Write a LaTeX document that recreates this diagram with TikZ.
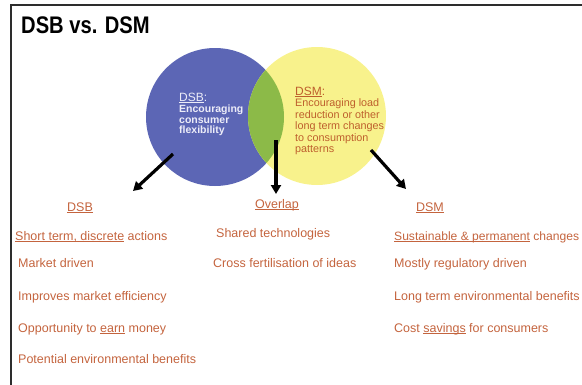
\documentclass[tikz,border=0pt]{standalone}
\usepackage{fontspec}
\setmainfont{Liberation Sans}
\usepackage{graphicx}
\usetikzlibrary{arrows.meta}
\definecolor{blueC}{RGB}{92,102,181}
\definecolor{yellowC}{RGB}{248,242,140}
\definecolor{greenC}{RGB}{140,186,72}
\definecolor{brownT}{RGB}{196,100,62}
\definecolor{dsmT}{RGB}{190,95,45}
\definecolor{lightT}{RGB}{236,236,248}
\definecolor{frameC}{RGB}{45,45,45}
\newcommand\ulx[1]{\setbox0\hbox{#1}\rlap{\rule[-1.8pt]{\wd0}{0.8pt}}\box0\relax}
\tikzset{
  item/.style={anchor=base west, inner sep=0pt, text=brownT, font=\fontsize{12.5}{14}\selectfont},
  head/.style={anchor=base, inner sep=0pt, text=brownT, font=\fontsize{12.5}{14}\selectfont},
  dsbtxt/.style={anchor=base west, inner sep=0pt, text=lightT, font=\bfseries\fontsize{10.5}{11}\selectfont},
  dsmtxt/.style={anchor=base west, inner sep=0pt, text=dsmT, font=\fontsize{10.8}{11}\selectfont},
  bigarrow/.style={line width=3.2pt, draw=black, -{Triangle[length=9pt,width=10pt]}}
}
\begin{document}
\begin{tikzpicture}[x=1pt,y=-1pt]
\useasboundingbox (0,0) rectangle (582,384);
\clip (0,0) rectangle (582,384);
% frame
\draw[frameC, line width=1.4pt] (11,390) -- (11,5) -- (590,5);
% title
\node[anchor=base west, inner sep=0pt, font=\bfseries\fontsize{24}{26}\selectfont] (title) at (21,33) {\scalebox{0.84}[1]{DSB vs. DSM}};
% circles
\fill[blueC] (215,117) circle[radius=69];
\fill[yellowC] (317,116) circle[radius=69];
\begin{scope}
  \clip (215,117) circle[radius=69];
  \fill[greenC] (317,116) circle[radius=69];
\end{scope}
% blue text
\node[anchor=base west, inner sep=0pt, text=lightT, font=\fontsize{12}{13}\selectfont] (dsbh) at (179,101) {\ulx{DSB}:};
\node[dsbtxt] (dsb1) at (179,112.5) {Encouraging};
\node[dsbtxt] (dsb2) at (179,123) {consumer};
\node[dsbtxt] (dsb3) at (179,133.5) {flexibility};
% yellow text
\node[anchor=base west, inner sep=0pt, text=dsmT, font=\fontsize{12}{13}\selectfont] (dsmh) at (295,95) {\ulx{DSM}:};
\node[dsmtxt] (dsm1) at (295,106.5) {Encouraging load};
\node[dsmtxt] (dsm2) at (295,118) {reduction or other};
\node[dsmtxt] (dsm3) at (295,129.5) {long term changes};
\node[dsmtxt] (dsm4) at (295,141) {to consumption};
\node[dsmtxt] (dsm5) at (295,152.5) {patterns};
% headers
\node[head] (hdsb) at (80,211) {\ulx{DSB}};
\node[head] (hov) at (277,208) {\ulx{Overlap}};
\node[head] (hdsm) at (430,211) {\ulx{DSM}};
% arrows
\coordinate (a1) at (173,154);
\coordinate (a1e) at (133,191);
\coordinate (a2) at (276,140);
\coordinate (a2e) at (276,194);
\coordinate (a3) at (371,150);
\coordinate (a3e) at (406,189);
\draw[bigarrow] (a1) -- (a1e);
\draw[bigarrow] (a2) -- (a2e);
\draw[bigarrow] (a3) -- (a3e);
% left column
\node[item] (l1) at (15,240) {\ulx{Short term, discrete} actions};
\node[item] (l2) at (18,267) {Market driven};
\node[item] (l3) at (18,300) {Improves market efficiency};
\node[item] (l4) at (18,332) {Opportunity to \ulx{earn} money};
\node[item] (l5) at (18,363) {Potential environmental benefits};
% middle column
\node[item] (m1) at (216,237) {Shared technologies};
\node[item] (m2) at (213,267) {Cross fertilisation of ideas};
% right column
\node[item, font=\fontsize{12.1}{14}\selectfont] (r1) at (394,240) {\ulx{Sustainable \& permanent} changes};
\node[item] (r2) at (394,267) {Mostly regulatory driven};
\node[item] (r3) at (394,300) {Long term environmental benefits};
\node[item] (r4) at (394,332) {Cost \ulx{savings} for consumers};
\end{tikzpicture}
\end{document}
